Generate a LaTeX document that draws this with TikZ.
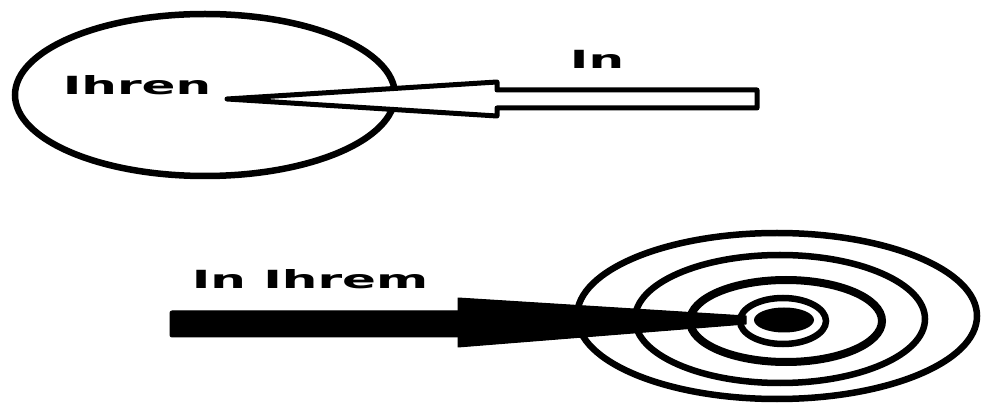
\documentclass[tikz,border=0pt]{standalone}
\usepackage{fontspec}
\setmainfont{DejaVu Sans}
\usetikzlibrary{calc,shapes.geometric}

\begin{document}
\begin{tikzpicture}[x=1pt, y=-1pt,
        word/.style={font=\bfseries\fontsize{25}{30}\selectfont, xscale=2, anchor=base, inner sep=0pt},
        ringline/.style={draw=black, ellipse, line width=6.5pt, inner sep=0pt},
        hollowarrow/.style={draw=black, fill=white, line width=5pt, line join=round},
        solidarrow/.style={fill=black, draw=black, line width=1pt, line join=round}
      ]
        \useasboundingbox (0,0) rectangle (983,403);

        % top: hollow arrow into the circle
        \node[ringline, minimum width=380pt, minimum height=162pt] (circle) at (205,95) {};
        \coordinate (intip)  at (227,99);
        \coordinate (intail) at (757,99);
        \draw[hollowarrow] (intail) ++(0,-9) -- (497,90) -- (497,82) -- (intip)
          -- (497,116) -- (497,108) -- ($(intail)+(0,9)$) -- cycle;
        \node[word] (ihren) at (137,95) {Ihren};
        \node[word] (in)    at (597,69) {In};

        % bottom: solid arrow into the target
        \node[ringline, minimum width=400pt, minimum height=166pt] (ringd) at (777,316) {};
        \node[ringline, minimum width=290pt, minimum height=128pt] (ringc) at (780,319) {};
        \node[ringline, minimum width=192pt, minimum height=82pt, line width=8pt] (ringb) at (786,321) {};
        \node[ringline, minimum width=86pt,  minimum height=46pt] (ringa) at (783,321) {};
        \node[ellipse, fill=black, minimum width=60pt, minimum height=25pt, inner sep=0pt] (bull) at (784,320) {};
        \coordinate (targettip)  at (746,320);
        \coordinate (targettail) at (170,324);
        \draw[solidarrow, rounded corners=2pt] (targettail) ++(0,-13) rectangle (460,337);
        \draw[solidarrow] (458,298) -- ($(targettip)+(0,-4)$) -- ($(targettip)+(0,4)$) -- (458,347) -- cycle;
        \node[word] (inihrem) at (310,289) {In Ihrem};
      \end{tikzpicture}
\end{document}
